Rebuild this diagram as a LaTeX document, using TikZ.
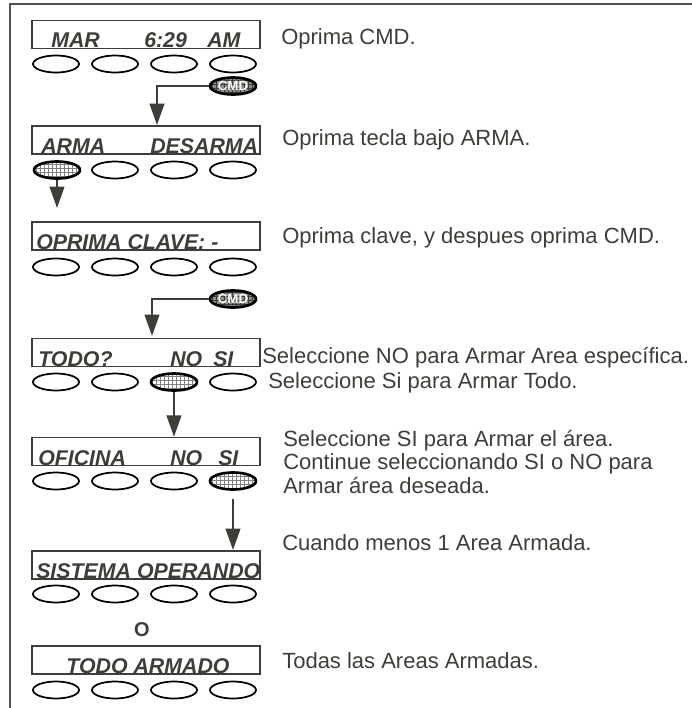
\documentclass[tikz,border=0pt]{standalone}
\usepackage{fontspec}
\setmainfont{Liberation Sans}
\usetikzlibrary{shapes.geometric, arrows.meta, patterns, calc, positioning}
\definecolor{ink}{RGB}{62,62,56}

\begin{document}
\begin{tikzpicture}[x=0.75pt,y=0.75pt,yscale=-1,xscale=1,
	lcd/.style={draw=ink, line width=1.1pt, minimum width=171pt, minimum height=21pt, inner sep=0pt},
	key/.style={ellipse, draw=black, line width=1.3pt, minimum width=34.5pt, minimum height=12.75pt, inner sep=0pt},
	keyon/.style={key, line width=2pt, pattern=grid, pattern color=black!50},
	cmdkey/.style={key, line width=2pt, preaction={fill=ink!60}, pattern=grid, pattern color=ink, text=white, font=\fontsize{10}{10}\selectfont\bfseries},
	arr/.style={draw=ink, line width=1.5pt, -{Triangle[length=16pt,width=11pt]}},
	lbl/.style={anchor=base west, inner sep=0pt, text=ink, font=\fontsize{16}{18}\selectfont\bfseries\itshape},
	note/.style={anchor=base west, inner sep=0pt, text=ink, font=\fontsize{16.5}{19}\selectfont}]
		\useasboundingbox (0,0) rectangle (692,708);

		%Frame
		\draw [draw=ink!90, line width=1.3pt] (10,708) -- (10,4) -- (692,4) ;

		%Displays
		\node [lcd] (d1) at (146,34.5) {};
		\node [lcd] (d2) at (146,140) {};
		\node [lcd] (d3) at (146,236) {};
		\node [lcd] (d4) at (146,352.5) {};
		\node [lcd] (d5) at (146,451.5) {};
		\node [lcd] (d6) at (146,565) {};
		\node [lcd] (d7) at (146,660) {};

		%Keys row 1
		\node [key] (k11) at (56,64) {};
		\node [key] (k12) at (115,64) {};
		\node [key] (k13) at (174,64) {};
		\node [key] (k14) at (233,64) {};
		\node [cmdkey] (c1) at (233,86) {CMD};
		%Keys row 2
		\node [keyon] (k21) at (57,170) {};
		\node [key] (k22) at (115,170) {};
		\node [key] (k23) at (174,170) {};
		\node [key] (k24) at (233,170) {};
		%Keys row 3
		\node [key] (k31) at (56,267) {};
		\node [key] (k32) at (115,267) {};
		\node [key] (k33) at (174,267) {};
		\node [key] (k34) at (233,267) {};
		\node [cmdkey] (c2) at (233,299) {CMD};
		%Keys row 4
		\node [key] (k41) at (56,382) {};
		\node [key] (k42) at (115,382) {};
		\node [keyon] (k43) at (174,382) {};
		\node [key] (k44) at (233,382) {};
		%Keys row 5
		\node [key] (k51) at (56,481) {};
		\node [key] (k52) at (115,481) {};
		\node [key] (k53) at (174,481) {};
		\node [keyon] (k54) at (233,481) {};
		%Keys row 6
		\node [key] (k61) at (56,594) {};
		\node [key] (k62) at (115,594) {};
		\node [key] (k63) at (174,594) {};
		\node [key] (k64) at (233,594) {};
		%Keys row 7
		\node [key] (k71) at (56,690) {};
		\node [key] (k72) at (115,690) {};
		\node [key] (k73) at (174,690) {};
		\node [key] (k74) at (233,690) {};

		%Arrows
		\coordinate (t2) at (157,125);
		\draw [arr] (c1.west) -| (t2) ;
		\coordinate (t3) at (57,208);
		\draw [arr] (k21.south) -- (t3) ;
		\coordinate (t4) at (152,336);
		\draw [arr] (c2.west) -| (t4) ;
		\draw [arr] (k43.south) -- (d5.north -| k43) ;
		\coordinate (t6) at (233,550);
		\draw [arr, shorten <=6pt] (k54.south) -- (t6) ;

		% Display texts
		\node [lbl] (m1) at (51,47) {MAR};
		\node [lbl] (m2) at (144,47) {6:29};
		\node [lbl] (m3) at (207,47) {AM};
		\node [lbl] (a1) at (41,153) {ARMA};
		\node [lbl] (a2) at (150,153) {DESARMA};
		\node [lbl] (p1) at (36,249) {OPRIMA CLAVE: -};
		\node [lbl] (q1) at (38,366) {TODO?};
		\node [lbl] (q2) at (170,366) {NO};
		\node [lbl] (q3) at (213,366) {SI};
		\node [lbl] (f1) at (38,465) {OFICINA};
		\node [lbl] (f2) at (170,465) {NO};
		\node [lbl] (f3) at (218,465) {SI};
		\node [lbl] (s1) at (36,578) {SISTEMA OPERANDO};
		\node [lbl, anchor=base] (r1) at (148,673) {TODO ARMADO};
		\node [text=ink, font=\fontsize{15}{17}\selectfont\bfseries] (o1) at (142,630) {O};

		% Notes
		\node [note] (n1) at (281,44) {Oprima CMD.};
		\node [note] (n2) at (282,145) {Oprima tecla bajo ARMA.};
		\node [note] (n3) at (282,243) {Oprima clave, y despues oprima CMD.};
		\node [note] (n4) at (262,363) {Seleccione NO para Armar Area específica.};
		\node [note] (n5) at (268,388) {Seleccione Si para Armar Todo.};
		\node [note] (n6) at (283,446) {Seleccione SI para Armar el área.};
		\node [note] (n7) at (283,469) {Continue seleccionando SI o NO para};
		\node [note] (n8) at (283,493) {Armar área deseada.};
		\node [note] (n9) at (282,550) {Cuando menos 1 Area Armada.};
		\node [note] (n10) at (282,668) {Todas las Areas Armadas.};

	\end{tikzpicture}
\end{document}
